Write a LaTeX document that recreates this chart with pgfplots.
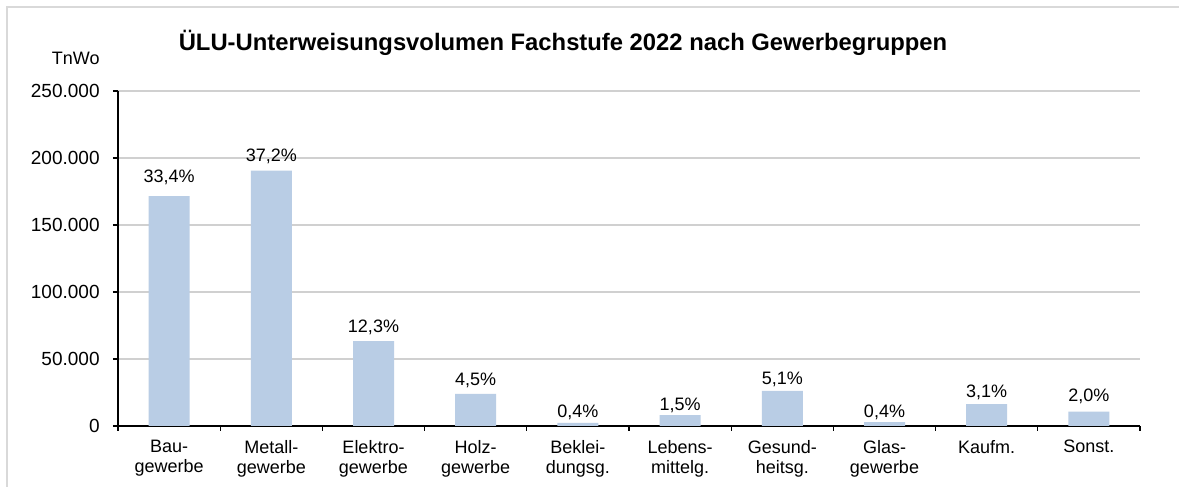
\documentclass[border=0pt]{standalone}
\usepackage{pgfplots}
\usepackage{pgfplotstable}
\pgfplotsset{compat=1.18}
\usepackage{fontspec}
\setmainfont{Liberation Sans}
\definecolor{barc}{RGB}{185,205,229}
\definecolor{gridc}{RGB}{208,208,208}
\definecolor{framec}{RGB}{217,217,217}
\pgfplotstableread{
x y lab dy
0 171600 {33,4\%} 7
1 190500 {37,2\%} 4.5
2 63400 {12,3\%} 4.5
3 23900 {4,5\%} 4
4 2300 {0,4\%} 2.5
5 8200 {1,5\%} 2.5
6 26300 {5,1\%} 3
7 2800 {0,4\%} 2.5
8 16400 {3,1\%} 3.5
9 10700 {2,0\%} 5
}\datatab
\begin{document}
\begin{tikzpicture}[x=0.5pt,y=0.5pt]
\useasboundingbox (0,0) rectangle (1179,487);
\fill[white] (0,0) rectangle (1179,487);
\draw[framec, line width=0.7pt] (7,-5) -- (7,480) -- (1185,480);
\node[font=\bfseries\fontsize{11.9}{14}\selectfont, anchor=center] at (563,444) {ÜLU-Unterweisungsvolumen Fachstufe 2022 nach Gewerbegruppen};
\node[font=\fontsize{9}{11}\selectfont, anchor=base east, inner sep=0pt] at (100,422) {TnWo};
\begin{axis}[
  at={(59pt,30.5pt)}, anchor=south west,
  scale only axis, width=511pt, height=167.5pt,
  xmin=-0.5, xmax=9.5, ymin=0, ymax=250000,
  axis x line*=bottom, axis y line*=left,
  axis line style={black, line width=0.7pt, -},
  ytick={0,50000,100000,150000,200000,250000},
  minor ytick={0,50000,100000,150000,200000,250000},
  ymajorgrids, grid style={gridc, line width=0.6pt},
  xtick={0,1,2,3,4,5,6,7,8,9},
  minor xtick={-0.5,0.5,1.5,2.5,3.5,4.5,5.5,6.5,7.5,8.5,9.5},
  xticklabels={{Bau-\\gewerbe},{Metall-\\gewerbe},{Elektro-\\gewerbe},{Holz-\\gewerbe},{Beklei-\\dungsg.},{Lebens-\\mittelg.},{Gesund-\\heitsg.},{Glas-\\gewerbe},{Kaufm.},{Sonst.}},
  xticklabel style={align=center, font=\fontsize{9}{10}\selectfont, anchor=north, inner sep=0pt, yshift=-7pt},
  yticklabel style={font=\fontsize{9.5}{11}\selectfont, anchor=east, inner sep=0pt, xshift=-9pt},
  tick align=outside, major tick length=0pt, minor tick length=2.5pt,
  tick style={black, line width=0.6pt},
  scaled y ticks=false,
  yticklabel={\textnormal{\fontsize{9.5}{11}\selectfont\pgfmathprintnumber[fixed, precision=0, 1000 sep={.}, assume math mode=true]{\tick}}},
]
\addplot[ybar, bar width=20.5pt, fill=barc, draw=none,
  point meta=explicit symbolic,
  visualization depends on={\thisrow{dy} \as \dylab},
  nodes near coords,
  nodes near coords style={font=\fontsize{9}{11}\selectfont, anchor=base, inner sep=0pt, yshift=\dylab pt, text=black}]
  table[x=x, y=y, meta=lab] {\datatab};
\end{axis}
\end{tikzpicture}
\end{document}
